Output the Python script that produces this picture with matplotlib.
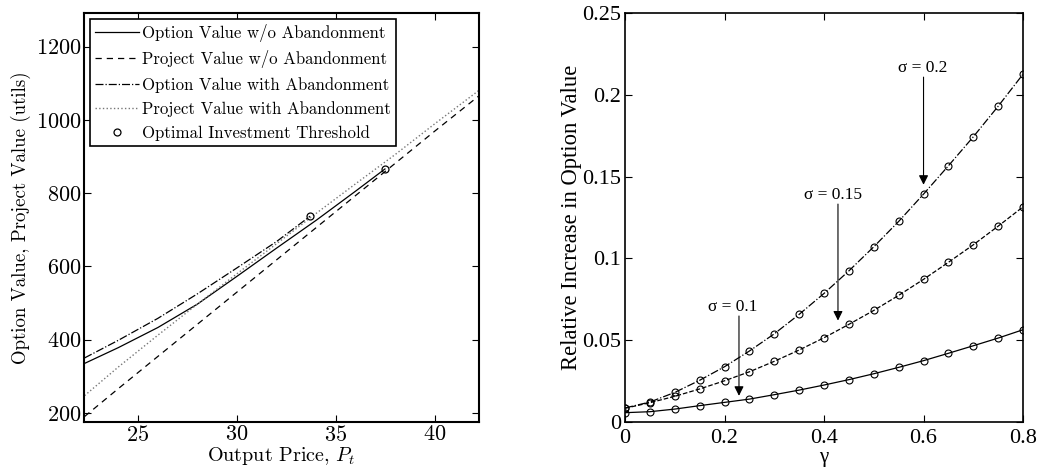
import matplotlib
matplotlib.use('Agg')
import matplotlib.pyplot as plt

# left panel: values
price = [22.3, 24, 26, 28, 30, 32, 34, 36, 38, 40, 42.2]
proj_wo = [190, 266, 354, 442, 530, 618, 706, 794, 882, 970, 1065]
proj_with = [247, 325, 412, 497, 580, 662, 745, 826, 906, 990, 1080]

price_opt_wo = [22.3, 24, 26, 28, 30, 32, 34, 36, 37.47]
opt_wo = [335, 378, 433, 497, 573, 650, 726, 806, 866]

price_opt_with = [22.3, 24, 26, 28, 30, 32, 33.69]
opt_with = [350, 398, 458, 525, 596, 668, 737]

thresh_price = [33.69, 37.47]
thresh_value = [737, 866]

# right panel
gamma = [0, 0.05, 0.1, 0.15, 0.2, 0.25, 0.3, 0.35, 0.4,
         0.45, 0.5, 0.55, 0.6, 0.65, 0.7, 0.75, 0.8]
inc_s010 = [0.0057, 0.0063, 0.0079, 0.0100, 0.0120, 0.0140, 0.0167, 0.0195,
            0.0226, 0.0259, 0.0295, 0.0334, 0.0375, 0.0420, 0.0466, 0.0513,
            0.0564]
inc_s015 = [0.0084, 0.0118, 0.0157, 0.0202, 0.0252, 0.0307, 0.0371, 0.0440,
            0.0515, 0.0597, 0.0682, 0.0774, 0.0872, 0.0976, 0.1083, 0.1197,
            0.1315]
inc_s020 = [0.0086, 0.0122, 0.0181, 0.0255, 0.0338, 0.0434, 0.0539, 0.0658,
            0.0786, 0.0924, 0.1071, 0.1226, 0.1393, 0.1566, 0.1743, 0.1930,
            0.2126]

plt.rcParams['mathtext.fontset'] = 'cm'
plt.rcParams['axes.formatter.use_mathtext'] = True

fig = plt.figure(figsize=(10.47, 4.69), dpi=100)

# ---- left panel ----
ax1 = fig.add_axes([0.0802, 0.1002, 0.3773, 0.8721])
cm = 'cmr10'
ax1.plot(price_opt_wo, opt_wo, '-', color='k', lw=0.9,
         label='Option Value w/o Abandonment')
ax1.plot(price, proj_wo, '--', color='k', lw=0.9, dashes=(5, 4),
         label='Project Value w/o Abandonment')
ax1.plot(price_opt_with, opt_with, '-.', color='k', lw=0.9,
         label='Option Value with Abandonment')
ax1.plot(price, proj_with, ':', color='#777777', lw=1.0,
         label='Project Value with Abandonment')
ax1.plot(thresh_price, thresh_value, 'o', mfc='none', mec='k', ms=5,
         mew=0.9, label='Optimal Investment Threshold')
ax1.set_xlim(22.27, 42.22)
ax1.set_ylim(175, 1292)
ax1.set_xticks([25, 30, 35, 40])
ax1.set_yticks([200, 400, 600, 800, 1000, 1200])
ax1.tick_params(direction='in', top=True, right=True, length=5, width=0.8,
                labelsize=16, pad=2)
for lab in ax1.get_xticklabels() + ax1.get_yticklabels():
    lab.set_fontfamily(cm)
for s in ax1.spines.values():
    s.set_linewidth(1.5)
ax1.set_xlabel(r'Output Price, $P_t$', fontfamily=cm, fontsize=14.5,
               labelpad=0)
ax1.set_ylabel('Option Value, Project Value (utils)', fontfamily=cm,
               fontsize=13.6, labelpad=3)
leg = ax1.legend(loc='upper left', prop={'family': cm, 'size': 12.1},
                 fancybox=False, edgecolor='k', framealpha=1,
                 borderaxespad=0.35, handlelength=2.6, handletextpad=0.2,
                 labelspacing=0.5, borderpad=0.3)
leg.get_frame().set_linewidth(1.2)

# ---- right panel ----
tf = 'Liberation Serif'
ax2 = fig.add_axes([0.597, 0.1002, 0.3801, 0.8721])
ax2.plot(gamma, inc_s010, '-', color='k', lw=0.9, marker='o', mfc='none',
         mec='k', ms=5, mew=0.8)
ax2.plot(gamma, inc_s015, '--', color='k', lw=0.9, marker='o', mfc='none',
         mec='k', ms=5, mew=0.8)
ax2.plot(gamma, inc_s020, '-.', color='k', lw=0.9, marker='o', mfc='none',
         mec='k', ms=5, mew=0.8)
ax2.set_xlim(0, 0.8)
ax2.set_ylim(0, 0.25)
ax2.set_xticks([0, 0.2, 0.4, 0.6, 0.8])
ax2.set_xticklabels(['0', '0.2', '0.4', '0.6', '0.8'])
ax2.set_yticks([0, 0.05, 0.1, 0.15, 0.2, 0.25])
ax2.set_yticklabels(['0', '0.05', '0.1', '0.15', '0.2', '0.25'])
ax2.tick_params(direction='in', top=True, right=True, length=5, width=0.8,
                labelsize=16)
ax2.tick_params(axis='x', pad=5)
ax2.tick_params(axis='y', pad=3)
for lab in ax2.get_xticklabels() + ax2.get_yticklabels():
    lab.set_fontfamily(tf)
for s in ax2.spines.values():
    s.set_linewidth(1.2)
ax2.set_xlabel('γ', fontfamily=tf, fontsize=15, labelpad=0)
ax2.set_ylabel('Relative Increase in Option Value', fontfamily=tf,
               fontsize=16.3, labelpad=0)

arrow = dict(arrowstyle='-|>', color='k', lw=0.8, mutation_scale=14,
             shrinkA=0, shrinkB=0)
ax2.annotate('', xy=(0.6, 0.145), xytext=(0.6, 0.2108), arrowprops=arrow)
ax2.text(0.599, 0.2165, 'σ = 0.2', fontfamily=tf, fontsize=12.5,
         ha='center', va='center')
ax2.annotate('', xy=(0.428, 0.062), xytext=(0.428, 0.1332), arrowprops=arrow)
ax2.text(0.418, 0.1385, 'σ = 0.15', fontfamily=tf, fontsize=12.5,
         ha='center', va='center')
ax2.annotate('', xy=(0.229, 0.016), xytext=(0.229, 0.0648), arrowprops=arrow)
ax2.text(0.217, 0.0705, 'σ = 0.1', fontfamily=tf, fontsize=12.5,
         ha='center', va='center')

fig.savefig('out.png', dpi=100)
